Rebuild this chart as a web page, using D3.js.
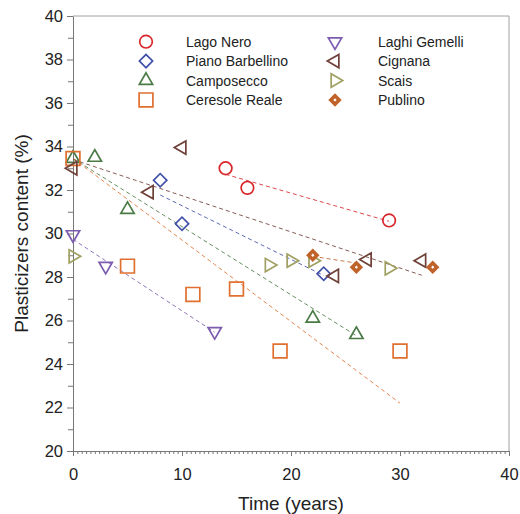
<!DOCTYPE html>
<html>
<head>
<meta charset="utf-8">
<script src="https://cdn.jsdelivr.net/npm/d3@7"></script>
<style>
  body { margin: 0; background: #fff; }
  text { font-family: "Liberation Sans", Arial, sans-serif; fill: #222; }
</style>
</head>
<body>
<svg id="chart" width="520" height="514"></svg>
<script>
// series names, in legend order
const seriesNames = ["Lago Nero", "Piano Barbellino", "Camposecco", "Ceresole Reale",
                     "Laghi Gemelli", "Cignana", "Scais", "Publino"];
const seriesColors = ["#d9262a", "#4050a8", "#4a7b45", "#e07030",
                      "#7d5cb0", "#6e4038", "#a0a062", "#c0632a"];

// [time (years), plasticizers content (%)]
const lagoNero = [[14, 33.0], [16, 32.1], [29, 30.6]];
const pianoBarbellino = [[8, 32.45], [10, 30.45], [23, 28.15]];
const camposecco = [[0, 33.45], [2, 33.5], [5, 31.1], [22, 26.1], [26, 25.35]];
const ceresoleReale = [[0, 33.45], [5, 28.5], [11, 27.2], [15, 27.45], [19, 24.6], [30, 24.6]];
const laghiGemelli = [[0, 29.95], [3, 28.5], [13, 25.5]];
const cignana = [[0, 33.0], [7, 31.9], [10, 33.95], [24, 28.05], [27, 28.8], [32, 28.75]];
const scais = [[0, 28.95], [18, 28.55], [20, 28.75], [22, 28.75], [29, 28.4]];
const publino = [[22, 29.0], [26, 28.45], [33, 28.45]];

// dashed trend lines [x0, y0, x1, y1], null = no line
const trendLines = [
  [14, 32.72, 29, 30.56],
  [8, 31.77, 23, 28.07],
  [0, 33.45, 26, 25.3],
  [0, 33.45, 30, 22.2],
  [0, 29.73, 13, 25.46],
  [0, 33.4, 32, 28.08],
  null,
  [22, 28.95, 26, 28.64]
];

const allSeries = [lagoNero, pianoBarbellino, camposecco, ceresoleReale,
                   laghiGemelli, cignana, scais, publino];

const xTicks = [0, 10, 20, 30, 40];
const yTicks = [20, 22, 24, 26, 28, 30, 32, 34, 36, 38, 40];

const margin = { top: 16, right: 11, bottom: 63, left: 73 };
const width = 520 - margin.left - margin.right;
const height = 514 - margin.top - margin.bottom;

const x = d3.scaleLinear().domain([0, 40]).range([0, width]);
const y = d3.scaleLinear().domain([20, 40]).range([height, 0]);

const svg = d3.select("#chart")
  .append("g")
  .attr("transform", `translate(${margin.left}, ${margin.top})`);

// frame (top and right)
svg.append("path")
  .attr("d", `M0,0H${width}V${height}`)
  .attr("fill", "none")
  .attr("stroke", "#a0a0a0")
  .attr("stroke-width", 1);

// minor ticks
svg.append("g")
  .attr("transform", `translate(0, ${height})`)
  .call(d3.axisBottom(x).tickValues(d3.range(0, 100.5).map(i => i * 0.4)).tickSize(3).tickFormat(""))
  .call(g => g.select(".domain").remove())
  .selectAll("line").attr("stroke", "#777");

svg.append("g")
  .call(d3.axisLeft(y).tickValues(d3.range(21, 40, 2)).tickSize(5).tickFormat(""))
  .call(g => g.select(".domain").remove())
  .selectAll("line").attr("stroke", "#777");

// main axes
const xAxis = svg.append("g")
  .attr("transform", `translate(0, ${height})`)
  .call(d3.axisBottom(x).tickValues(xTicks).tickSize(5).tickPadding(12).tickSizeOuter(0));

const yAxis = svg.append("g")
  .call(d3.axisLeft(y).tickValues(yTicks).tickSize(6).tickPadding(4).tickSizeOuter(0));

[xAxis, yAxis].forEach(a => {
  a.select(".domain").attr("stroke", "#777");
  a.selectAll(".tick line").attr("stroke", "#777");
  a.selectAll(".tick text")
    .style("font-size", "16.5px")
    .style("font-family", "'Liberation Sans', Arial, sans-serif")
    .attr("fill", "#222");
});

// axis titles
svg.append("text")
  .attr("x", x(20))
  .attr("y", 494)
  .attr("text-anchor", "middle")
  .style("font-size", "19px")
  .text("Time (years)");

svg.append("text")
  .attr("transform", "rotate(-90)")
  .attr("x", -height / 2)
  .attr("y", -45)
  .attr("text-anchor", "middle")
  .style("font-size", "19px")
  .text("Plasticizers content (%)");

// trend lines
svg.selectAll(".trend")
  .data(trendLines.map((t, i) => ({ t, i })).filter(d => d.t))
  .enter()
  .append("line")
  .attr("class", "trend")
  .attr("x1", d => x(d.t[0]))
  .attr("y1", d => y(d.t[1]))
  .attr("x2", d => x(d.t[2]))
  .attr("y2", d => y(d.t[3]))
  .attr("stroke", d => seriesColors[d.i])
  .attr("stroke-opacity", 0.85)
  .attr("stroke-width", 1)
  .attr("stroke-dasharray", "4,3");

// marker shapes
function markerPath(i) {
  const types = [
    [d3.symbolCircle, 125, 0],
    [d3.symbolSquare, 88, 45],
    [d3.symbolTriangle, 77, 0],
    [d3.symbolSquare, 190, 0],
    [d3.symbolTriangle, 77, 180],
    [d3.symbolTriangle, 77, -90],
    [d3.symbolTriangle, 77, 90],
    [d3.symbolSquare, 35, 45]
  ];
  return types[i];
}

function drawMarker(g, i, cx, cy) {
  const [type, size, rot] = markerPath(i);
  g.append("path")
    .attr("d", d3.symbol().type(type).size(size)())
    .attr("transform", `translate(${cx}, ${cy}) rotate(${rot})`)
    .attr("fill", i === 7 ? "#fff" : "none")
    .attr("stroke", seriesColors[i])
    .attr("stroke-width", i === 7 ? 3.6 : 1.7);
}

allSeries.forEach((series, i) => {
  const g = svg.append("g");
  series.forEach(d => drawMarker(g, i, x(d[0]), y(d[1])));
});

// legend
const legend = d3.select("#chart").append("g");
seriesNames.forEach((name, i) => {
  const col = Math.floor(i / 4);
  const row = i % 4;
  const mx = col === 0 ? 146 : 335;
  const my = 41.7 + row * 19.4;
  drawMarker(legend, i, mx, my);
  legend.append("text")
    .attr("x", col === 0 ? 186 : 378)
    .attr("y", my + 5)
    .style("font-size", "14px")
    .text(name);
});
</script>
</body>
</html>
